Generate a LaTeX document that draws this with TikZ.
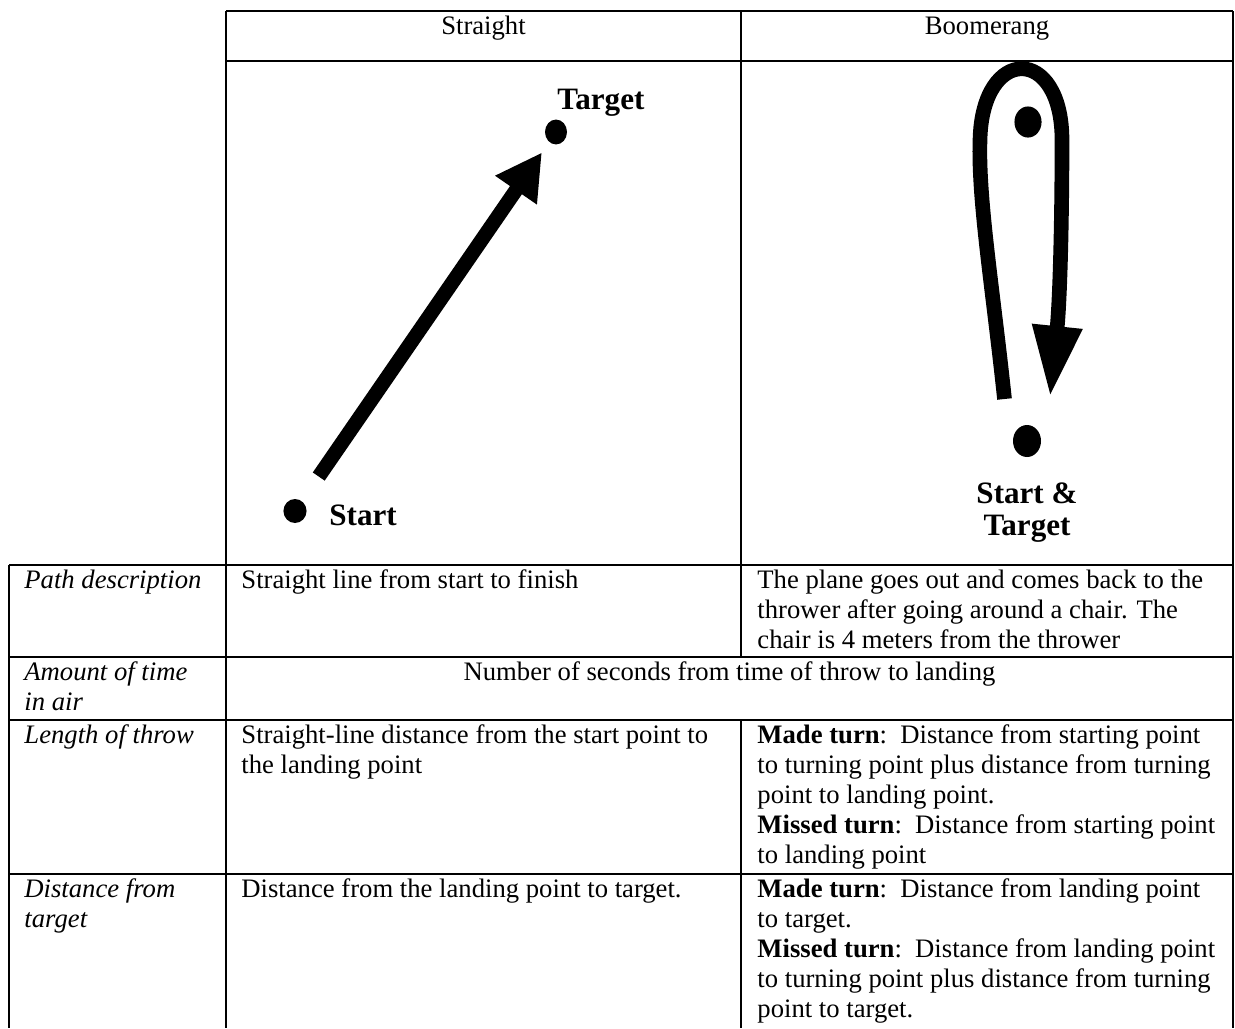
\documentclass[tikz,border=0pt]{standalone}
\usepackage{fontspec}
\setmainfont{Liberation Serif}
\usetikzlibrary{arrows.meta,positioning,shapes.geometric}
\newcommand{\bodyfont}{\fontsize{12}{13.5}\selectfont}
\newcommand{\tagfont}{\fontsize{14}{14.4}\selectfont\bfseries}

\begin{document}
\begin{tikzpicture}[
  x=0.45pt, y=-0.45pt,
  rule/.style={line width=0.9pt},
  cell/.style={anchor=north west,inner sep=0pt,align=left,font=\bodyfont},
  rowlab/.style={cell,font=\bodyfont\itshape},
  headcell/.style={cell,anchor=north,align=center},
  dot/.style={fill=black,ellipse,inner sep=0pt},
  tag/.style={inner sep=0pt,font=\tagfont,align=center},
  arr/.style={line width=6.5pt,-{Triangle[length=20.6pt,width=21.3pt]}},
  flight/.style={line width=6.6pt,-{Triangle[length=32pt,width=21pt]}}
]
  \useasboundingbox (0,0) rectangle (1235,1028);

  % table rules
  \draw[rule] (226,11) -- (1233,11) (226,61) -- (1233,61);
  \draw[rule] (9,565) -- (1233,565) (9,657) -- (1233,657);
  \draw[rule] (9,720) -- (1233,720) (9,874) -- (1233,874);
  \draw[rule] (9,565) -- (9,1028) (226,11) -- (226,1028) (1233,11) -- (1233,1028);
  \draw[rule] (741,11) -- (741,657) (741,720) -- (741,1028);

  % header
  \node[headcell] (hstraight) at (483.5,13) {\strut Straight};
  \node[headcell] (hboom) at (987,13) {\strut Boomerang};

  % straight throw
  \node[dot,minimum width=10.4pt,minimum height=10.8pt] (start) at (295,511) {};
  \node[dot,minimum width=9.9pt,minimum height=11.2pt] (target) at (556,132) {};
  \node[tag,anchor=base west] (startlbl) at (329,525) {Start};
  \node[tag,anchor=base west] (targetlbl) at (557,109) {Target};
  \draw[arr,shorten <=13.3pt,shorten >=5.6pt] (start) -- (target);

  % boomerang throw
  \node[dot,minimum width=12.2pt,minimum height=14pt] (chair) at (1028,122) {};
  \node[dot,minimum width=12.6pt,minimum height=14.4pt] (home) at (1027,441) {};
  \node[tag,anchor=north] (homelbl) at (1027,480.6) {\strut Start \&\\Target};
  \coordinate (leave) at ([shift={(-22.5,-42)}]home.center);
  \coordinate (back) at ([shift={(23,-44)}]home.center);
  \draw[flight] (leave) .. controls (993,290) and (978,200) .. (980,140)
    .. controls (982,45) and (1062,45) .. (1062,140)
    .. controls (1062,220) and (1060,300) .. (back);

  % rows
  \node[rowlab] (pathlab) at (24,567) {\strut Path description};
  \node[cell] (pathstr) at (241,567) {\strut Straight line from start to finish};
  \node[cell] (pathboom) at (757,567) {\strut The plane goes out and comes back to the\\
    thrower after going around a chair. The\\chair is 4 meters from the thrower};

  \node[rowlab] (timelab) at (24,659) {\strut Amount of time\\in air};
  \node[headcell] (timeall) at (729.5,659) {\strut Number of seconds from time of throw to landing};

  \node[rowlab] (lenlab) at (24,722) {\strut Length of throw};
  \node[cell] (lenstr) at (241,722) {\strut Straight-line distance from the start point to\\the landing point};
  \node[cell] (lenboom) at (757,722) {\strut\textbf{Made turn}:\ \ Distance from starting point\\
    to turning point plus distance from turning\\point to landing point.\\
    \textbf{Missed turn}:\ \ Distance from starting point\\to landing point};

  \node[rowlab] (distlab) at (24,876) {\strut Distance from\\target};
  \node[cell] (diststr) at (241,876) {\strut Distance from the landing point to target.};
  \node[cell] (distboom) at (757,876) {\strut\textbf{Made turn}:\ \ Distance from landing point\\
    to target.\\\textbf{Missed turn}:\ \ Distance from landing point\\
    to turning point plus distance from turning\\point to target.};
\end{tikzpicture}
\end{document}
